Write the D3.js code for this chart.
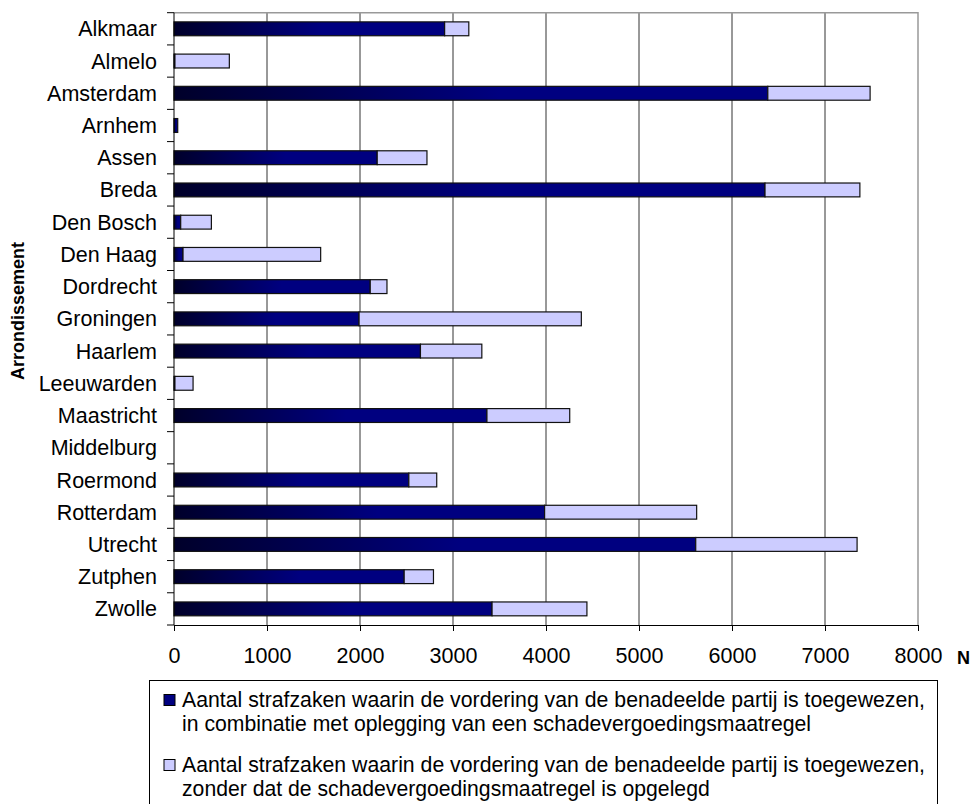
<!DOCTYPE html>
<html>
<head>
<meta charset="utf-8">
<script src="https://cdn.jsdelivr.net/npm/d3@7"></script>
<style>
  html, body { margin: 0; padding: 0; background: #fff; }
  svg { display: block; font-family: Arial, "Liberation Sans", sans-serif; }
</style>
</head>
<body>
<svg id="chart" width="978" height="804"></svg>
<script>
// ---- Data ----
const categories = ["Alkmaar","Almelo","Amsterdam","Arnhem","Assen","Breda","Den Bosch","Den Haag","Dordrecht","Groningen","Haarlem","Leeuwarden","Maastricht","Middelburg","Roermond","Rotterdam","Utrecht","Zutphen","Zwolle"];
const metMaatregel    = [2910, 10, 6385, 40, 2185, 6355, 72, 97, 2110, 1990, 2650, 10, 3365, 0, 2525, 3985, 5610, 2475, 3420];
const zonderMaatregel = [260, 585, 1100, 0, 535, 1020, 330, 1480, 180, 2390, 660, 195, 890, 0, 300, 1635, 1735, 315, 1020];
const xTicks = [0,1000,2000,3000,4000,5000,6000,7000,8000];
const legendLabels = [
  ["Aantal strafzaken waarin de vordering van de benadeelde partij is toegewezen,",
   "in combinatie met oplegging van een schadevergoedingsmaatregel"],
  ["Aantal strafzaken waarin de vordering van de benadeelde partij is toegewezen,",
   "zonder dat de schadevergoedingsmaatregel is opgelegd"]
];
const yTitle = "Arrondissement";
const xTitle = "N";

// ---- Layout ----
const svg = d3.select("#chart");
const pL = 174, pR = 918, pT = 12.7, pB = 625;
const FS = 21.5, LFS = 21.2;

const x = d3.scaleLinear().domain([0, 8000]).range([pL, pR]);
const y = d3.scaleBand().domain(categories).range([pT, pB])
  .paddingInner(0.57).paddingOuter(0.285);

const defs = svg.append("defs");
const grad = defs.append("linearGradient").attr("id", "darkGrad")
  .attr("x1", "0%").attr("x2", "100%").attr("y1", "0%").attr("y2", "0%");
grad.append("stop").attr("offset", "0%").attr("stop-color", "#00002a");
grad.append("stop").attr("offset", "55%").attr("stop-color", "#000080");
grad.append("stop").attr("offset", "100%").attr("stop-color", "#000080");

// gridlines
svg.append("g").selectAll("line").data(xTicks.slice(1, -1)).join("line")
  .attr("x1", d => x(d)).attr("x2", d => x(d))
  .attr("y1", pT).attr("y2", pB)
  .attr("stroke", "#333").attr("stroke-width", 1);

// plot border top + right
svg.append("path")
  .attr("d", `M${pL},${pT}H${pR}V${pB}`)
  .attr("fill", "none").attr("stroke", "#999").attr("stroke-width", 1.5);

// bars
const rows = categories.map((c, i) => ({ c, a: metMaatregel[i], b: zonderMaatregel[i] }));
const bars = svg.append("g");
bars.selectAll("rect.a").data(rows.filter(d => d.a > 0)).join("rect")
  .attr("class", "a")
  .attr("x", x(0)).attr("y", d => y(d.c))
  .attr("width", d => x(d.a) - x(0)).attr("height", y.bandwidth())
  .attr("fill", "url(#darkGrad)").attr("stroke", "#111").attr("stroke-width", 1.2);
bars.selectAll("rect.b").data(rows.filter(d => d.b > 0)).join("rect")
  .attr("class", "b")
  .attr("x", d => x(d.a)).attr("y", d => y(d.c))
  .attr("width", d => x(d.a + d.b) - x(d.a)).attr("height", y.bandwidth())
  .attr("fill", "#ccccff").attr("stroke", "#111").attr("stroke-width", 1.2);

// x axis
const xAxis = svg.append("g").attr("transform", `translate(0,${pB})`)
  .call(d3.axisBottom(x).tickValues(xTicks).tickSize(6).tickPadding(17).tickFormat(d3.format("d")));
xAxis.select(".domain").attr("stroke", "#000");
xAxis.selectAll(".tick line").attr("stroke", "#000");
xAxis.selectAll("text").attr("font-size", FS).attr("font-family", "Arial, 'Liberation Sans', sans-serif").attr("fill", "#000");

// y axis line + ticks at band boundaries
svg.append("line").attr("x1", pL).attr("x2", pL).attr("y1", pT).attr("y2", pB)
  .attr("stroke", "#000").attr("stroke-width", 1);
const boundaries = categories.map(c => y(c) + y.bandwidth() / 2 - y.step() / 2).concat([pB]);
svg.append("g").selectAll("line").data(boundaries).join("line")
  .attr("x1", pL - 7).attr("x2", pL).attr("y1", d => d).attr("y2", d => d)
  .attr("stroke", "#000");

// y labels
svg.append("g").selectAll("text").data(categories).join("text")
  .attr("x", 157).attr("y", d => y(d) + y.bandwidth() / 2).attr("dy", "0.35em")
  .attr("text-anchor", "end").attr("font-size", FS).attr("fill", "#000")
  .text(d => d);

// axis titles
svg.append("text").attr("transform", `translate(24,311) rotate(-90)`)
  .attr("text-anchor", "middle").attr("font-size", 18).attr("font-weight", "bold")
  .text(yTitle);
svg.append("text").attr("x", 957).attr("y", 664)
  .attr("font-size", 18).attr("font-weight", "bold").text(xTitle);

// legend
const lg = svg.append("g");
lg.append("rect").attr("x", 149.5).attr("y", 680.5).attr("width", 788).attr("height", 140)
  .attr("fill", "#fff").attr("stroke", "#000").attr("stroke-width", 1);
const entryY = [707, 772];
legendLabels.forEach((lines, i) => {
  lg.append("rect").attr("x", 164).attr("y", entryY[i] - 12.5).attr("width", 11).attr("height", 11)
    .attr("fill", i === 0 ? "#000080" : "#ccccff").attr("stroke", "#000").attr("stroke-width", 1);
  lines.forEach((t, j) => {
    const tx = lg.append("text").attr("x", 182).attr("y", entryY[i] + j * 24)
      .attr("font-size", LFS).attr("fill", "#000").text(t);
    if (j === 0) tx.attr("textLength", 743).attr("lengthAdjust", "spacingAndGlyphs");
  });
});
</script>
</body>
</html>
